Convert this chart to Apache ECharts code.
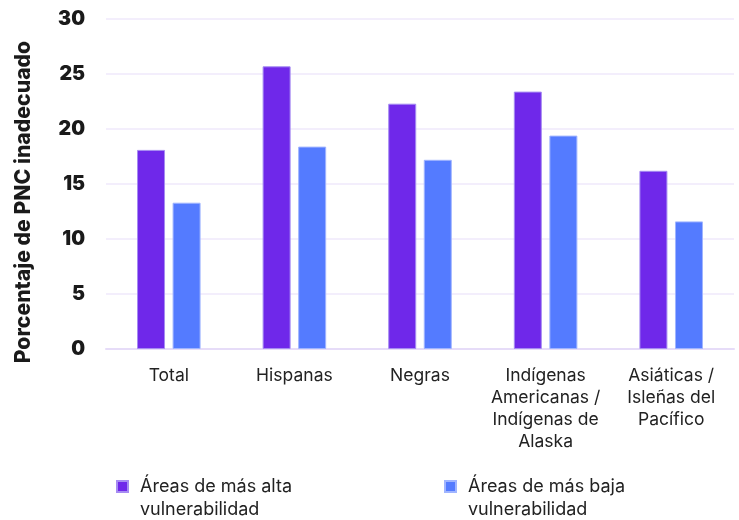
<!DOCTYPE html>
<html>
<head>
<meta charset="utf-8">
<script src="https://cdn.jsdelivr.net/npm/echarts@6/dist/echarts.min.js"></script>
<style>html,body{margin:0;padding:0;background:#fff;}#c{width:739px;height:520px;}</style>
</head>
<body>
<div id="c"></div>
<script>
const categories = ['Total', 'Hispanas', 'Negras', 'Indígenas\nAmericanas /\nIndígenas de\nAlaska', 'Asiáticas /\nIsleñas del\nPacífico'];
const seriesNames = ['Áreas de más alta\nvulnerabilidad', 'Áreas de más baja\nvulnerabilidad'];
const highVuln = [18.1, 25.7, 22.3, 23.4, 16.2];
const lowVuln = [13.3, 18.4, 17.2, 19.4, 11.6];
const yTicks = [0, 5, 10, 15, 20, 25, 30];
const yAxisTitle = 'Porcentaje de PNC inadecuado';

const chart = echarts.init(document.getElementById('c'), null, {renderer: 'canvas'});
const legendText = {
  fontFamily: 'Inter, Roboto, sans-serif', fontSize: 18, color: '#222', lineHeight: 23,
  padding: [0, 0, 0, 7]
};
const legendFmt = name => '\n' + name;
chart.setOption({
  animation: false,
  grid: {left: 106, right: 5, top: 19, bottom: 171, containLabel: false},
  legend: [
    {data: [seriesNames[0]], left: 116, top: 452, padding: 0, itemWidth: 11, itemHeight: 11, icon: 'rect', textStyle: legendText, formatter: legendFmt},
    {data: [seriesNames[1]], left: 444, top: 452, padding: 0, itemWidth: 11, itemHeight: 11, icon: 'rect', textStyle: legendText, formatter: legendFmt}
  ],
  graphic: [{
    type: 'text', rotation: Math.PI / 2,
    x: 24, y: 202,
    style: {text: yAxisTitle, font: '800 21.2px Inter, Roboto, sans-serif', fill: '#1a1a1a', align: 'center', verticalAlign: 'middle'}
  }],
  xAxis: {
    type: 'category', data: categories,
    axisLine: {show: true, lineStyle: {color: '#E6DCF8', width: 2}},
    axisTick: {show: false},
    axisLabel: {color: '#222', fontFamily: 'Inter, Roboto, sans-serif', fontSize: 17.5, lineHeight: 22, margin: 16, interval: 0}
  },
  yAxis: {
    type: 'value', min: yTicks[0], max: yTicks[yTicks.length - 1], interval: 5,
    axisLine: {show: false}, axisTick: {show: false},
    splitLine: {lineStyle: {color: '#EFE9FB', width: 1.5}},
    axisLabel: {color: '#1a1a1a', fontFamily: 'Inter, Roboto, sans-serif', fontWeight: 900, fontSize: 19.5, margin: 21}
  },
  series: [
    {name: seriesNames[0], type: 'bar', data: highVuln, barWidth: 28, barGap: '27%',
     itemStyle: {color: '#6F28EA', borderColor: '#A68CF2', borderWidth: 1}},
    {name: seriesNames[1], type: 'bar', data: lowVuln, barWidth: 28, barGap: '27%',
     itemStyle: {color: '#547BFF', borderColor: '#A0B5FF', borderWidth: 1}}
  ]
});
</script>
</body>
</html>
